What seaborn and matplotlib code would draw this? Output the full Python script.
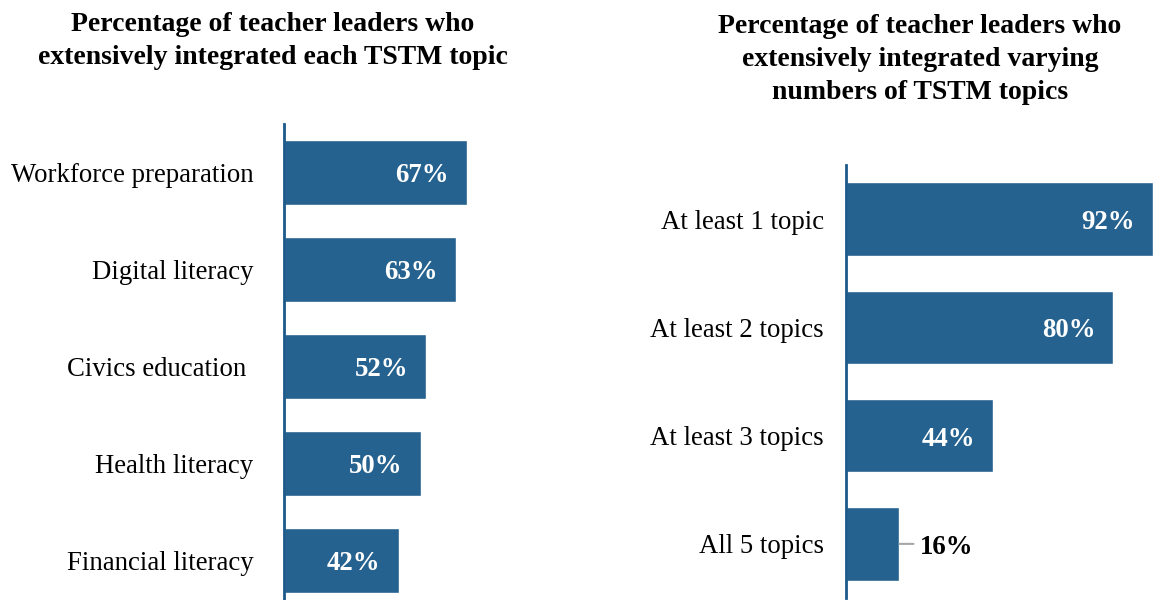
import matplotlib
matplotlib.use("Agg")
import matplotlib.pyplot as plt
import seaborn as sns
import pandas as pd

sns.set_style("white")
plt.rcParams['font.family'] = ['Liberation Serif', 'DejaVu Serif']
plt.rcParams['text.color'] = 'black'
plt.rcParams['ytick.color'] = 'black'

# data
topics = ["Workforce preparation", "Digital literacy", "Civics education ",
          "Health literacy", "Financial literacy"]
topic_pct = [67, 63, 52, 50, 42]

counts = ["At least 1 topic", "At least 2 topics", "At least 3 topics", "All 5 topics"]
count_pct = [92, 80, 44, 16]

left_title = "Percentage of teacher leaders who\nextensively integrated each TSTM topic"
right_title = "Percentage of teacher leaders who\nextensively integrated varying\nnumbers of TSTM topics"

bar_color = "#25628F"
spine_color = "#1B5A8A"

W, H = 1153, 600
fig = plt.figure(figsize=(W / 100, H / 100), dpi=100)

def px_axes(x0, y_top, width, y_bot):
    return fig.add_axes([x0 / W, 1 - y_bot / H, width / W, (y_bot - y_top) / H])

ax1 = px_axes(284, 124, 273, 609)
ax2 = px_axes(846, 165, 334, 598)

def draw(ax, cats, vals, inside_min):
    df = pd.DataFrame({"cat": cats, "val": vals})
    sns.barplot(data=df, x="val", y="cat", ax=ax, color=bar_color,
                saturation=1, width=0.68, orient="h")
    ax.set_xlim(0, 100)
    ax.set_ylim(len(cats) - 0.5, -0.5)
    ax.set_xlabel("")
    ax.set_ylabel("")
    ax.set_xticks([])
    for s in ["top", "right", "bottom"]:
        ax.spines[s].set_visible(False)
    ax.spines["left"].set_color(spine_color)
    ax.spines["left"].set_linewidth(2)
    ax.tick_params(axis="y", length=0, labelsize=19.3, labelcolor="black")
    for i, v in enumerate(vals):
        if v >= inside_min:
            ax.annotate(f"{v}%", (v, i), xytext=(-13, -2.5), textcoords="offset points",
                        ha="right", va="center", color="white",
                        fontsize=19.3, fontweight="bold")
        else:
            ax.annotate("", xy=(v, i), xytext=(v + 4.2, i),
                        arrowprops=dict(arrowstyle="-", color="#A6A6A6", lw=1.5,
                                        shrinkA=0, shrinkB=0))
            ax.annotate(f"{v}%", (v, i), xytext=(15, -2.5), textcoords="offset points",
                        ha="left", va="center", color="black",
                        fontsize=19.3, fontweight="bold")

draw(ax1, topics, topic_pct, 30)
ax1.tick_params(axis="y", pad=22)
draw(ax2, counts, count_pct, 30)
ax2.tick_params(axis="y", pad=16)

fig.text(273 / W, 1 - 12 / H, left_title, ha="center", va="top",
         fontsize=20, fontweight="bold", linespacing=1.43)
fig.text(920 / W, 1 - 14 / H, right_title, ha="center", va="top",
         fontsize=20, fontweight="bold", linespacing=1.43)

fig.savefig("out.png", dpi=100)
